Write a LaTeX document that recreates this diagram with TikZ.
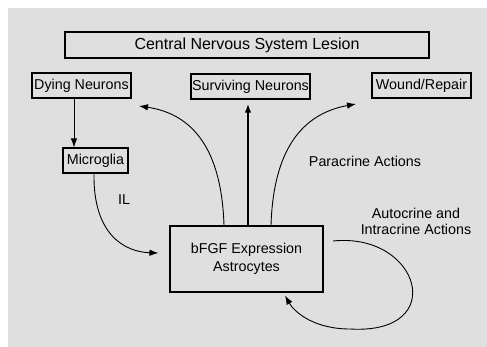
\documentclass[tikz,border=0pt]{standalone}
\usepackage{fontspec}
\setmainfont{Liberation Sans}
\usetikzlibrary{arrows.meta}
\definecolor{panel}{HTML}{DFDFDF}
\tikzset{
  box/.style={draw, line width=1.1pt, inner sep=0pt, font=\fontsize{14.3}{16}\selectfont},
  lbl/.style={font=\fontsize{14.3}{16}\selectfont, align=center},
  arr/.style={-{Latex[length=9pt,width=6.5pt]}, line width=0.9pt}
}
\begin{document}
\begin{tikzpicture}[x=1pt,y=-1pt]
\useasboundingbox (0,0) rectangle (487,347);
\fill[panel] (8,8) rectangle (487,347);

\node[box, line width=1.3pt, minimum width=364pt, minimum height=26pt, font=\fontsize{16}{18}\selectfont] (lesion) at (247,45) {Central Nervous System Lesion};
\node[box, minimum width=99pt, minimum height=25pt] (dying) at (81.5,85.5) {Dying Neurons};
\node[box, minimum width=119pt, minimum height=25pt] (surviving) at (250.5,86.5) {Surviving Neurons};
\node[box, minimum width=99pt, minimum height=25pt] (wound) at (421.5,85.5) {Wound/Repair};
\node[box, minimum width=65pt, minimum height=25pt] (microglia) at (95.5,160.5) {Microglia};
\node[box, minimum width=153pt, minimum height=66pt, align=center, font=\fontsize{14.3}{18}\selectfont] (astro) at (246.5,259) {bFGF Expression\\Astrocytes};

\node[lbl] (il) at (124,200) {IL};
\node[lbl] (para) at (365,161) {Paracrine Actions};
\node[lbl] (auto) at (416,221) {Autocrine and\\Intracrine Actions};

\coordinate (dyingtip) at (139,106);
\coordinate (woundtip) at (356,104);
\coordinate (loopstart) at (333,241);

% lesion side
\draw[arr] ([xshift=-7.5pt]dying.south) -- ([xshift=-7.5pt]dying.south |- microglia.north);
\draw[arr] ([xshift=-1.5pt]microglia.south) .. controls (93,235) and (125,252) .. ([shift={(-11,-6)}]astro.west);

% paracrine
\draw[arr] ([xshift=-22.5pt]astro.north) .. controls (222,160) and (200,115) .. (dyingtip);
\draw[arr] ([xshift=24.5pt]astro.north) .. controls (273,160) and (295,115) .. (woundtip);
\draw[arr, line width=1.8pt] ([xshift=1.5pt]astro.north) -- ([shift={(-2.5,4)}]surviving.south);

% autocrine loop
\draw[arr] (loopstart) .. controls (420,232) and (450,335) .. (350,329)
  .. controls (315,329) and (295,313) .. ([shift={(38.5,3)}]astro.south);
\end{tikzpicture}
\end{document}
